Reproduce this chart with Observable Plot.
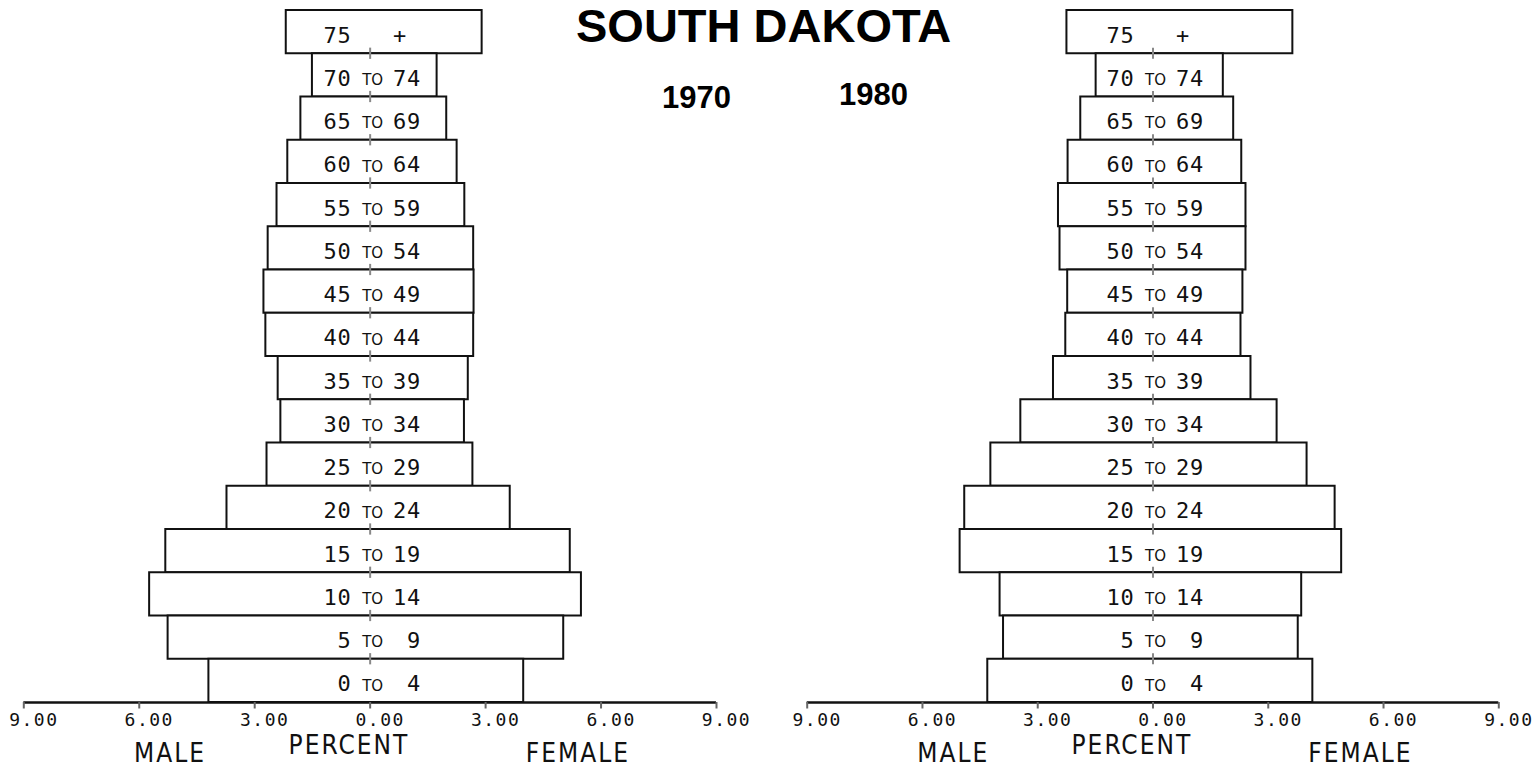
<!DOCTYPE html>
<html>
<head>
<meta charset="utf-8">
<script src="https://cdn.jsdelivr.net/npm/d3@7"></script>
<script src="https://cdn.jsdelivr.net/npm/@observablehq/plot@0.6"></script>
<style>
  html, body { margin: 0; padding: 0; background: #fff; }
  #wrap { position: relative; width: 1539px; height: 767px; overflow: hidden; background: #fff; }
  .ttl { position: absolute; font-family: "Liberation Sans", Arial, sans-serif; font-weight: bold; line-height: 1; color: #000; white-space: nowrap; }
  .panel { position: absolute; top: 0; }
  .panel svg { overflow: visible; }
  .panel svg g.ticklbl text { letter-spacing: 1.5px; }
  .panel svg g.side text { letter-spacing: 2px; }
  .panel svg g.agelbl text { letter-spacing: 0.8px; }
</style>
</head>
<body>
<div id="wrap">
  <div class="ttl" style="left:576px; top:2px; font-size:47px;">SOUTH DAKOTA</div>
  <div class="ttl" style="left:662px; top:82px; font-size:31px;">1970</div>
  <div class="ttl" style="left:839px; top:79px; font-size:31px;">1980</div>
  <div class="panel" id="p1970" style="left:0px;"></div>
  <div class="panel" id="p1980" style="left:770px;"></div>
</div>
<script>
// ---- data (percent of total population) ----
const ageGroups = ["75 +","70 TO 74","65 TO 69","60 TO 64","55 TO 59","50 TO 54","45 TO 49","40 TO 44",
                   "35 TO 39","30 TO 34","25 TO 29","20 TO 24","15 TO 19","10 TO 14","5 TO 9","0 TO 4"];
const male1970   = [2.18,1.50,1.80,2.14,2.42,2.65,2.76,2.71,2.39,2.32,2.68,3.72,5.31,5.73,5.25,4.19];
const female1970 = [2.91,1.74,1.99,2.26,2.46,2.69,2.70,2.69,2.55,2.45,2.67,3.64,5.20,5.49,5.03,3.99];
const male1980   = [2.24,1.48,1.88,2.21,2.46,2.42,2.22,2.27,2.59,3.44,4.22,4.90,5.02,3.98,3.89,4.30];
const female1980 = [3.64,1.83,2.10,2.31,2.42,2.42,2.34,2.29,2.55,3.23,4.01,4.74,4.91,3.87,3.78,4.16];
const xTicks = [-9,-6,-3,0,3,6,9];
const sideLabels = ["MALE","FEMALE"];
const sideLabelX = [-5.2,5.4];
const axisTitle = "PERCENT";

function pyramid(male, female, mLeft, mRight, width) {
  const rows = ageGroups.map((g, i) => {
    const parts = g.split(" ");
    const hasTo = parts.includes("TO");
    return {
      i, m: male[i], f: female[i], hasTo,
      lo: parts[0],
      hi: hasTo ? parts[parts.length - 1] : parts[parts.length - 1] + "\u00a0"
    };
  });
  const sides = sideLabels.map((t, k) => ({t, x: sideLabelX[k]}));
  const mono = "DejaVu Sans Mono, monospace";
  const narrow = "Liberation Sans Narrow, DejaVu Sans Condensed, Arial Narrow, sans-serif";
  const svg = Plot.plot({
    width, height: 767,
    marginLeft: mLeft, marginRight: mRight, marginTop: 10, marginBottom: 65,
    x: {domain: [-9, 9], axis: null},
    y: {domain: [16, 0], axis: null},
    style: {background: "transparent", overflow: "visible"},
    marks: [
      // center guide line
      Plot.ruleX([0], {x: d => d, y1: () => 0, y2: () => 16, stroke: "#bbb", strokeWidth: 1.2, strokeDasharray: "3,5"}),
      // bars
      Plot.rect(rows, {x1: d => -d.m, x2: d => d.f, y1: d => d.i, y2: d => d.i + 1,
                       fill: "white", stroke: "#111", strokeWidth: 2}),
      // center marks at row boundaries
      Plot.ruleX(d3.range(1, 16), {x: () => 0, y1: d => d - 0.13, y2: d => d + 0.13, stroke: "#888", strokeWidth: 2}),
      // age labels
      Plot.text(rows, {x: () => 0, y: d => d.i + 0.5, text: d => d.lo, textAnchor: "end", dx: -18.5, dy: 3.5,
                       fontSize: 22, fontFamily: mono, fill: "#111", className: "agelbl"}),
      Plot.text(rows.filter(d => d.hasTo), {x: () => 0, y: d => d.i + 0.5, text: () => "TO", dx: 2.5, dy: 5,
                       fontSize: 15, fontFamily: "DejaVu Sans, sans-serif", fill: "#111"}),
      Plot.text(rows, {x: () => 0, y: d => d.i + 0.5, text: d => d.hi, textAnchor: "end", dx: 51, dy: 3.5,
                       fontSize: 22, fontFamily: mono, fill: "#111", className: "agelbl"}),
      // axis
      Plot.ruleY([16], {y: d => d, x1: () => -9, x2: () => 9, stroke: "#111", strokeWidth: 2.5}),
      Plot.ruleX(xTicks, {x: d => d, y1: () => 16, y2: () => 16.15, stroke: "#666", strokeWidth: 2}),
      Plot.text(xTicks, {x: d => d, y: () => 16, text: d => Math.abs(d).toFixed(2), dx: 10, dy: 17.6,
                         fontSize: 18, fontFamily: mono, fill: "#111", className: "ticklbl"}),
      // side labels
      Plot.text(sides, {x: d => d.x, y: () => 16, text: d => d.t, dy: 51.5,
                        fontSize: 26, fontFamily: narrow, fill: "#111", className: "side"}),
      Plot.text([axisTitle], {x: () => -0.55, y: () => 16, text: d => d, dy: 43.5,
                        fontSize: 26, fontFamily: narrow, fill: "#111", className: "side"})
    ]
  });
  return svg;
}

document.getElementById("p1970").appendChild(pyramid(male1970, female1970, 23.3, 44, 760));
document.getElementById("p1980").appendChild(pyramid(male1980, female1980, 36.7, 40.7, 769));
</script>
</body>
</html>
